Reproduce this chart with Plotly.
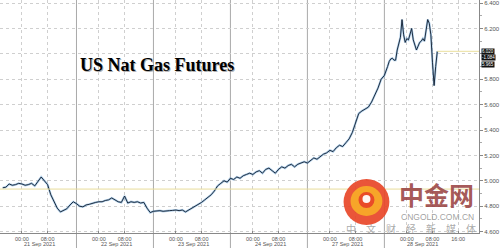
import plotly.graph_objects as go

# ---------------- data ----------------
session_dates = ["21 Sep 2021", "22 Sep 2021", "23 Sep 2021", "24 Sep 2021", "27 Sep 2021", "28 Sep 2021"]

# hourly readings, each session starts 18:00 the previous evening
prices_21sep = [4.945, 4.950, 4.975, 4.965, 4.970, 4.980, 4.975, 4.965, 4.970, 4.980, 4.960, 5.000,
                5.030, 5.000, 4.970, 4.890, 4.840, 4.785, 4.755, 4.770, 4.780, 4.810, 4.835, 4.820]
prices_22sep = [4.800, 4.795, 4.810, 4.815, 4.825, 4.830, 4.835, 4.835, 4.845, 4.850, 4.865, 4.850,
                4.835, 4.830, 4.880, 4.825, 4.835, 4.830, 4.835, 4.825, 4.830, 4.785, 4.750, 4.760]
prices_23sep = [4.765, 4.765, 4.760, 4.765, 4.765, 4.767, 4.770, 4.765, 4.770, 4.755, 4.770, 4.785,
                4.800, 4.810, 4.830, 4.850, 4.870, 4.890, 4.920, 4.960, 4.980, 5.000, 4.990, 5.020]
prices_24sep = [5.010, 5.030, 5.020, 5.040, 5.050, 5.060, 5.050, 5.070, 5.080, 5.060, 5.090, 5.100,
                5.080, 5.060, 5.090, 5.110, 5.100, 5.120, 5.130, 5.110, 5.130, 5.140, 5.150, 5.140]
prices_27sep = [5.160, 5.180, 5.170, 5.190, 5.210, 5.220, 5.240, 5.230, 5.260, 5.280, 5.270, 5.300,
                5.330, 5.380, 5.450, 5.530, 5.550, 5.565, 5.580, 5.620, 5.670, 5.730, 5.800, 5.830]
# half-hourly readings for the last (partial) session
prices_28sep = [5.900, 5.940, 5.960, 5.965, 5.950, 5.950, 6.030, 6.080, 6.130, 6.270, 6.150, 6.090,
                6.120, 6.110, 6.160, 6.200, 6.110, 6.060, 6.030, 6.060, 6.090, 6.100, 6.120, 6.100,
                6.200, 6.270, 6.240, 6.150, 5.930, 5.750, 5.900, 6.020]

hourly_sessions = [prices_21sep, prices_22sep, prices_23sep, prices_24sep, prices_27sep]

tick_clock_labels = ["00:00", "08:00"]
tick_clock_hours = [6, 14]          # hours after 18:00 session start
last_extra_ticks = ["16:00"]
last_extra_hours = [22]

y_ticks = [4.6, 4.8, 5.0, 5.2, 5.4, 5.6, 5.8, 6.0, 6.2, 6.4]
y_tick_labels = ["4.600", "4.800", "5.000", "5.200", "5.400", "5.600", "5.800", "", "6.200", "6.400"]
ref_level = 4.935
last_price = 6.020
last_labels = ["6.020", "-1.084", "5.965"]

title_text = "US Nat Gas Futures"

# ---------------- build x positions (trading-session hours) ----------------
xs, ys = [], []
for k, sess in enumerate(hourly_sessions):
    for i, p in enumerate(sess):
        xs.append(24 * k + i)
        ys.append(p)
k_last = len(hourly_sessions)
for i, p in enumerate(prices_28sep):
    xs.append(24 * k_last + 0.5 * i)
    ys.append(p)

tickvals, ticktext = [], []
for k in range(len(session_dates)):
    for lab, h in zip(tick_clock_labels, tick_clock_hours):
        tickvals.append(24 * k + h)
        ticktext.append(lab)
for lab, h in zip(last_extra_ticks, last_extra_hours):
    tickvals.append(24 * k_last + h)
    ticktext.append(lab)

x_range = [-0.84, 148.5]
y_range = [4.589, 6.424]

fig = go.Figure()

# glow underlay
fig.add_trace(go.Scatter(x=xs, y=ys, mode="lines",
                         line=dict(color="rgba(110,165,215,0.55)", width=2.2),
                         hoverinfo="skip", showlegend=False))
fig.add_trace(go.Scatter(x=xs, y=ys, mode="lines",
                         line=dict(color="#0d1b2c", width=0.9),
                         showlegend=False))

# reference level lines
fig.add_trace(go.Scatter(x=x_range, y=[ref_level, ref_level], mode="lines",
                         line=dict(color="#e9dc9a", width=1), showlegend=False, hoverinfo="skip"))
fig.add_trace(go.Scatter(x=[xs[-1], x_range[1]], y=[last_price, last_price], mode="lines",
                         line=dict(color="#eadf9c", width=1), showlegend=False, hoverinfo="skip"))

shapes = []
# session separators (at 17:00 close of each session)
for k in range(1, len(session_dates)):
    xb = 24 * k - 1
    shapes.append(dict(type="line", xref="x", yref="paper", x0=xb, x1=xb, y0=-0.07, y1=1,
                       line=dict(color="#a9a9a9", width=1), layer="below"))

# watermark logo
shapes.append(dict(type="circle", xref="paper", yref="paper",
                   x0=345 / 481, x1=391 / 481, y0=(233 - 225) / 233, y1=(233 - 179) / 233,
                   fillcolor="rgba(232,70,40,0.92)", line=dict(width=0)))
shapes.append(dict(type="circle", xref="paper", yref="paper",
                   x0=352 / 481, x1=384 / 481, y0=(233 - 216) / 233, y1=(233 - 186) / 233,
                   fillcolor="rgba(248,170,40,0.95)", line=dict(width=0)))
shapes.append(dict(type="circle", xref="paper", yref="paper",
                   x0=360 / 481, x1=376 / 481, y0=(233 - 208) / 233, y1=(233 - 192) / 233,
                   fillcolor="rgba(232,70,40,0.95)", line=dict(width=0)))
shapes.append(dict(type="circle", xref="paper", yref="paper",
                   x0=364 / 481, x1=372 / 481, y0=(233 - 203) / 233, y1=(233 - 195) / 233,
                   fillcolor="rgba(255,255,255,0.95)", line=dict(width=0)))

annotations = []
for k, d in enumerate(session_dates):
    cx = 24 * k + (11.5 if k < k_last else 11.0)
    annotations.append(dict(x=cx, y=-(248 - 233) / 233, xref="x", yref="paper", text=d, showarrow=False,
                            font=dict(size=5.5, color="#555", family="Liberation Sans"),
                            yanchor="bottom", xanchor="center", borderpad=0))

# title with shadow
annotations.append(dict(x=78 / 481 + 0.002, y=(233 - 65) / 233 - 0.006, xref="paper", yref="paper",
                        text="<b>" + title_text + "</b>", showarrow=False, xanchor="left", yanchor="middle",
                        font=dict(size=18, color="rgba(120,120,120,0.6)", family="Liberation Serif")))
annotations.append(dict(x=78 / 481, y=(233 - 65) / 233, xref="paper", yref="paper",
                        text="<b>" + title_text + "</b>", showarrow=False, xanchor="left", yanchor="middle",
                        font=dict(size=18, color="#000", family="Liberation Serif")))

# last value boxes
for j, lab in enumerate(last_labels):
    annotations.append(dict(x=1, y=last_price, xref="paper", yref="y", text=lab, showarrow=False,
                            xanchor="left", yanchor="middle", xshift=2, yshift=-6.5 * j,
                            bgcolor="#111", borderpad=0,
                            font=dict(size=4.5, color="#fff", family="Liberation Sans")))

# watermark text
annotations.append(dict(x=438 / 481, y=(233 - 194) / 233, xref="paper", yref="paper", text="<b>中金网</b>",
                        showarrow=False, xanchor="center", yanchor="middle",
                        font=dict(size=25, color="rgba(150,60,60,0.85)", family="Noto Sans CJK SC")))
annotations.append(dict(x=439 / 481, y=(233 - 217) / 233, xref="paper", yref="paper", text="CNGOLD.COM.CN",
                        showarrow=False, xanchor="center", yanchor="middle",
                        font=dict(size=8.5, color="rgba(150,150,150,0.9)", family="Liberation Sans")))
annotations.append(dict(x=413 / 481, y=(233 - 228) / 233, xref="paper", yref="paper",
                        text="中　文　财　经　新　媒　体",
                        showarrow=False, xanchor="center", yanchor="middle",
                        font=dict(size=10, color="rgba(140,140,140,0.75)", family="Noto Sans CJK SC")))

fig.update_layout(
    width=500, height=248,
    margin=dict(l=0, r=19, t=0, b=15),
    paper_bgcolor="white", plot_bgcolor="white",
    shapes=shapes, annotations=annotations,
    showlegend=False,
    xaxis=dict(range=x_range, tickvals=tickvals, ticktext=ticktext,
               showgrid=True, gridcolor="#cfcfcf", griddash="dot", gridwidth=1,
               showline=True, linecolor="#888", linewidth=1,
               ticks="inside", ticklen=2, tickcolor="#888",
               tickfont=dict(size=5.5, color="#555", family="Liberation Sans"),
               zeroline=False, fixedrange=True),
    yaxis=dict(range=y_range, side="right", tickvals=y_ticks, ticktext=y_tick_labels,
               showgrid=True, gridcolor="#cfcfcf", griddash="dot", gridwidth=1,
               showline=True, linecolor="#888", linewidth=1,
               ticks="outside", ticklen=3, tickcolor="#888",
               minor=dict(dtick=0.1, ticks="outside", ticklen=2, tickcolor="#aaa", showgrid=False),
               tickfont=dict(size=6, color="#555", family="Liberation Sans"),
               zeroline=False, fixedrange=True),
)

fig.write_html("out.html")
